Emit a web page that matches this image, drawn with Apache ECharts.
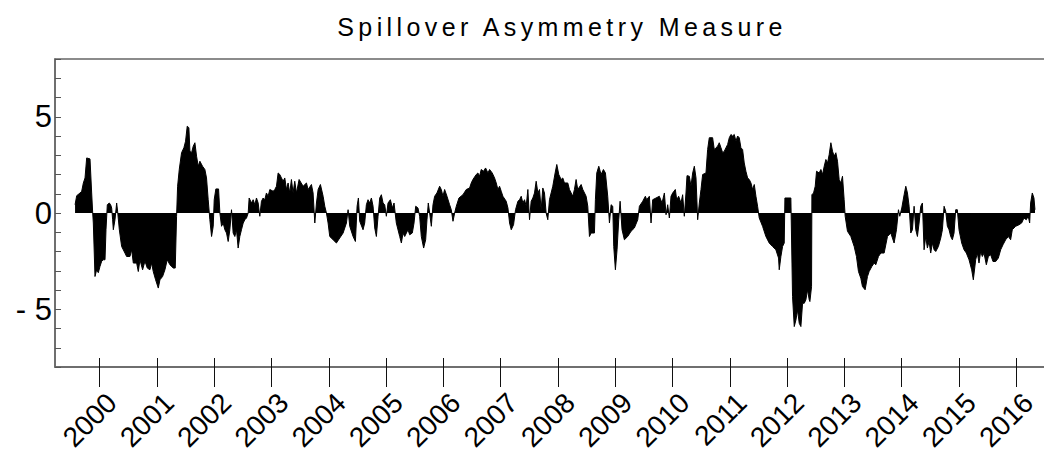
<!DOCTYPE html>
<html>
<head>
<meta charset="utf-8">
<title>Spillover Asymmetry Measure</title>
<script src="https://cdn.jsdelivr.net/npm/echarts@6.0.0/dist/echarts.min.js"></script>
<style>
  html, body { margin: 0; padding: 0; background: #fff; }
  #main { width: 1044px; height: 458px; }
</style>
</head>
<body>
<div id="main"></div>
<script>
const titleText = 'Spillover Asymmetry Measure';
const yearTicks = [2000, 2001, 2002, 2003, 2004, 2005, 2006, 2007, 2008,
  2009, 2010, 2011, 2012, 2013, 2014, 2015, 2016];
const yLabelValues = [-5, 0, 5];

// [decimal year, value]
const sam1999_2003 = [
  [1999.570, 0.43], [1999.599, 0.9], [1999.657, 1.04], [1999.686, 1.13], [1999.715, 1.56],
  [1999.744, 1.82], [1999.773, 2.86], [1999.831, 2.81], [1999.860, 1.04], [1999.878, 0],
  [1999.889, -0.52], [1999.918, -3.3], [1999.947, -2.95], [1999.976, -3.1], [2000.005, -2.78],
  [2000.035, -2.5], [2000.064, -2.43], [2000.093, -2.43], [2000.110, -0.87], [2000.133, 0.43],
  [2000.168, 0.52], [2000.191, 0.43], [2000.209, 0.26], [2000.226, -0.35], [2000.238, -0.87],
  [2000.267, -0.35], [2000.296, 0.52], [2000.313, 0.09], [2000.343, -0.87], [2000.383, -1.74],
  [2000.441, -2.08], [2000.470, -2.26], [2000.528, -2.26], [2000.558, -1.91], [2000.587, -2.6],
  [2000.645, -2.6], [2000.674, -3.04], [2000.703, -2.43], [2000.749, -2.95], [2000.790, -2.5],
  [2000.831, -2.86], [2000.877, -2.95], [2000.906, -2.6], [2000.935, -3.04], [2000.976, -3.47],
  [2001.023, -3.9], [2001.052, -3.47], [2001.098, -3.3], [2001.139, -2.95], [2001.179, -2.43],
  [2001.226, -2.69], [2001.284, -2.86], [2001.319, -2.86], [2001.342, -0.17], [2001.360, 1.39],
  [2001.389, 2.26], [2001.429, 3.13], [2001.470, 3.39], [2001.499, 3.73], [2001.528, 4.51],
  [2001.557, 4.43], [2001.575, 3.21], [2001.604, 3.13], [2001.633, 3.47], [2001.662, 3.65],
  [2001.691, 2.95], [2001.720, 2.43], [2001.749, 2.69], [2001.795, 2.43], [2001.836, 2.26],
  [2001.865, 1.82], [2001.894, 0.69], [2001.923, -0.35], [2001.953, -1.22], [2001.982, -0.69],
  [2001.999, 0.69], [2002.028, 1.25], [2002.075, 1.25], [2002.098, 0], [2002.127, -0.69],
  [2002.156, -0.52], [2002.185, -0.87], [2002.214, -1.04], [2002.243, -1.48], [2002.272, -0.87],
  [2002.301, 0.17], [2002.330, -1.04], [2002.359, -1.22], [2002.388, -0.87], [2002.417, -1.82],
  [2002.446, -1.22], [2002.475, -0.87], [2002.505, -0.52], [2002.534, -0.35], [2002.563, -0.26],
  [2002.592, 0], [2002.609, 0.78], [2002.650, 0.52], [2002.679, 0.69], [2002.708, 0.43],
  [2002.737, 0.78], [2002.766, 0.52], [2002.795, -0.17], [2002.824, 0.61], [2002.853, 0.78],
  [2002.882, 0.69], [2002.911, 1.04], [2002.940, 0.87], [2002.970, 1.22], [2003.028, 1.13],
  [2003.057, 1.22], [2003.086, 1.39], [2003.115, 2.08], [2003.144, 2.0], [2003.173, 1.82],
  [2003.202, 1.65], [2003.231, 1.82], [2003.260, 1.22], [2003.289, 1.56], [2003.318, 1.04],
  [2003.347, 1.74], [2003.376, 1.04], [2003.405, 1.65], [2003.435, 1.04], [2003.481, 1.74]
];

const sam2003_2007 = [
  [2003.551, 1.39], [2003.609, 1.56], [2003.638, 1.22], [2003.696, 1.48], [2003.725, 1.04],
  [2003.755, -0.52], [2003.784, 0.52], [2003.813, 1.22], [2003.853, 1.48], [2003.900, 0.87],
  [2003.929, 0.35], [2003.958, 0], [2003.987, -0.52], [2004.016, -1.22], [2004.074, -1.39],
  [2004.132, -1.56], [2004.190, -1.3], [2004.249, -1.04], [2004.307, -0.52], [2004.336, 0.17],
  [2004.365, -0.69], [2004.423, -1.22], [2004.464, -1.48], [2004.493, 0.35], [2004.516, 0.78],
  [2004.539, -0.43], [2004.597, -0.87], [2004.626, -0.52], [2004.655, 0.43], [2004.684, 0.69],
  [2004.713, 0.52], [2004.743, 0.78], [2004.772, 0.35], [2004.801, -0.78], [2004.830, -1.22],
  [2004.859, -0.17], [2004.888, 0.78], [2004.917, 0.95], [2004.946, 0.52], [2004.975, 0.43],
  [2005.004, -0.17], [2005.033, 0.52], [2005.074, 0.69], [2005.109, 0.26], [2005.138, 0.52],
  [2005.178, -0.52], [2005.237, -1.22], [2005.266, -1.56], [2005.295, -1.04], [2005.324, -1.22],
  [2005.382, -0.87], [2005.411, -1.13], [2005.457, -1.04], [2005.487, -0.52], [2005.516, 0.35],
  [2005.556, 0.26], [2005.585, -0.17], [2005.614, -1.22], [2005.655, -1.82], [2005.690, -1.39],
  [2005.713, -0.35], [2005.736, 0.52], [2005.760, 0], [2005.789, -0.69], [2005.818, 0.43],
  [2005.847, 0.87], [2005.887, 1.04], [2005.934, 1.39], [2005.963, 1.22], [2005.992, 0.87],
  [2006.021, 1.22], [2006.062, 0.87], [2006.108, 0.43], [2006.137, 0.17], [2006.167, -0.43],
  [2006.196, 0], [2006.225, 0.35], [2006.271, 0.78], [2006.341, 0.95], [2006.399, 1.22],
  [2006.457, 1.3], [2006.486, 1.56], [2006.515, 1.74], [2006.573, 2.0], [2006.602, 2.08],
  [2006.631, 1.91], [2006.660, 2.26], [2006.701, 2.17], [2006.736, 2.34], [2006.777, 2.08],
  [2006.806, 2.26], [2006.852, 2.08], [2006.893, 1.82], [2006.922, 1.56], [2006.951, 1.22],
  [2006.980, 1.39], [2007.009, 1.13], [2007.038, 0.87], [2007.096, 0.61], [2007.126, 0.26],
  [2007.155, -0.52], [2007.184, -0.87], [2007.224, -0.61], [2007.259, 0.17], [2007.300, 0.61],
  [2007.329, 0.69], [2007.358, 0.87], [2007.387, 0.52], [2007.416, 0.69], [2007.445, 0.35],
  [2007.474, 1.22], [2007.503, -0.35], [2007.532, 0.61], [2007.561, 0.78], [2007.590, 1.04],
  [2007.619, 1.65], [2007.649, 1.04]
];

const sam2007_2011 = [
  [2007.677, 1.22], [2007.706, 0.17], [2007.735, 1.3], [2007.764, 1.04], [2007.793, 0],
  [2007.822, -0.35], [2007.851, 0.69], [2007.909, 1.39], [2007.950, 2.08], [2007.979, 2.52],
  [2008.014, 2.0], [2008.055, 1.74], [2008.084, 1.82], [2008.113, 1.56], [2008.171, 1.56],
  [2008.200, 1.22], [2008.258, 0.87], [2008.287, 1.22], [2008.316, 1.74], [2008.345, 1.22],
  [2008.404, 1.48], [2008.433, 1.22], [2008.491, 0.87], [2008.520, 0.35], [2008.549, -1.22],
  [2008.578, -1.04], [2008.636, -1.04], [2008.653, 0.69], [2008.677, 2.08], [2008.712, 2.43],
  [2008.752, 2.0], [2008.793, 2.26], [2008.828, 2.08], [2008.868, 0.87], [2008.898, -0.52],
  [2008.927, 0.43], [2008.956, 0.35], [2008.973, -1.74], [2009.002, -2.95], [2009.031, -1.91],
  [2009.060, -0.35], [2009.084, 0.61], [2009.118, -0.87], [2009.159, -1.39], [2009.217, -1.22],
  [2009.275, -0.95], [2009.333, -0.78], [2009.392, -0.35], [2009.421, 0.35], [2009.479, 0.61],
  [2009.525, 0.87], [2009.548, 0.69], [2009.595, 0.87], [2009.624, -0.52], [2009.653, 0.69],
  [2009.711, 0.78], [2009.769, 0.87], [2009.816, 0.52], [2009.857, 1.04], [2009.886, -0.09],
  [2009.915, 0.43], [2009.944, -0.26], [2009.973, 0.87], [2010.002, 1.04], [2010.048, 1.22],
  [2010.072, 0.69], [2010.106, 0.87], [2010.147, 0.52], [2010.176, 0.95], [2010.205, -0.17],
  [2010.234, 1.04], [2010.252, 1.94], [2010.292, 1.91], [2010.321, 1.39], [2010.351, 2.08],
  [2010.380, 2.43], [2010.409, 1.82], [2010.438, -0.35], [2010.467, 0.52], [2010.496, 1.22],
  [2010.525, 2.0], [2010.583, 2.08], [2010.612, 3.3], [2010.641, 3.91], [2010.699, 3.91],
  [2010.728, 3.3], [2010.757, 3.39], [2010.786, 3.47], [2010.815, 3.65], [2010.845, 3.39],
  [2010.874, 3.13], [2010.903, 3.21], [2010.932, 3.39], [2010.961, 3.56], [2010.990, 3.91],
  [2011.019, 4.08], [2011.048, 4.0], [2011.077, 4.08], [2011.106, 3.73], [2011.135, 4.0],
  [2011.164, 3.91], [2011.193, 3.39], [2011.222, 3.3], [2011.251, 2.6], [2011.280, 2.17],
  [2011.310, 1.82], [2011.339, 1.74], [2011.368, 1.56], [2011.397, 1.22], [2011.426, 1.48],
  [2011.455, 0.87], [2011.484, 0.35], [2011.513, -0.26], [2011.571, -0.69], [2011.629, -1.22],
  [2011.687, -1.56], [2011.745, -1.74], [2011.803, -1.91], [2011.850, -2.34]
];

const sam2011_2016 = [
  [2011.862, -2.95], [2011.891, -2.26], [2011.920, -1.74], [2011.949, -1.56], [2011.961, 0.78],
  [2012.065, 0.78], [2012.094, -4.34], [2012.124, -5.9], [2012.153, -5.56], [2012.182, -5.04],
  [2012.211, -5.73], [2012.240, -5.9], [2012.269, -4.69], [2012.298, -4.69], [2012.327, -4.51],
  [2012.356, -3.99], [2012.385, -4.51], [2012.397, -4.6], [2012.426, -3.82], [2012.432, 0.95],
  [2012.461, 1.04], [2012.490, 1.39], [2012.513, 2.17], [2012.559, 2.08], [2012.589, 2.26],
  [2012.618, 2.0], [2012.647, 2.43], [2012.676, 2.78], [2012.705, 2.6], [2012.734, 3.04],
  [2012.763, 3.65], [2012.792, 3.21], [2012.821, 2.95], [2012.850, 3.13], [2012.879, 2.69],
  [2012.908, 1.74], [2012.937, 1.56], [2012.966, 1.91], [2012.995, 0.69], [2013.013, -0.17],
  [2013.053, -0.95], [2013.112, -1.22], [2013.170, -1.74], [2013.210, -2.26], [2013.245, -3.04],
  [2013.286, -3.39], [2013.315, -3.82], [2013.361, -3.99], [2013.402, -3.3], [2013.431, -3.04],
  [2013.478, -2.78], [2013.518, -2.6], [2013.547, -2.69], [2013.594, -2.26], [2013.635, -2.08],
  [2013.693, -2.08], [2013.751, -1.22], [2013.809, -1.04], [2013.867, -1.56], [2013.908, -0.87],
  [2013.943, 0.17], [2013.966, -0.17], [2014.001, 0.26], [2014.042, 0.95], [2014.071, 1.39],
  [2014.100, 1.04], [2014.129, 0.35], [2014.158, -1.04], [2014.187, -0.87], [2014.216, 0.35],
  [2014.245, -0.87], [2014.274, -1.22], [2014.303, -0.52], [2014.332, 0.35], [2014.361, 0.52],
  [2014.390, -1.91], [2014.419, -1.22], [2014.448, -1.82], [2014.477, -1.48], [2014.506, -2.08],
  [2014.536, -1.56], [2014.565, -1.91], [2014.594, -2.0], [2014.640, -1.74], [2014.681, -1.3],
  [2014.710, -0.87], [2014.739, 0.35], [2014.768, 0.09], [2014.797, -0.69], [2014.826, -0.87],
  [2014.855, -1.22], [2014.884, -1.39], [2014.913, -1.04], [2014.942, 0.17], [2014.971, 0.17],
  [2015.000, -0.87], [2015.047, -1.56], [2015.088, -1.91], [2015.128, -2.08], [2015.175, -2.43],
  [2015.221, -2.95], [2015.250, -3.47], [2015.291, -2.43], [2015.320, -2.08], [2015.349, -2.6],
  [2015.378, -2.0], [2015.407, -2.26], [2015.436, -2.08], [2015.477, -2.69], [2015.512, -2.26],
  [2015.553, -2.17], [2015.593, -2.52], [2015.640, -2.52], [2015.686, -2.34], [2015.727, -1.91],
  [2015.768, -1.65], [2015.814, -1.39], [2015.861, -1.22], [2015.901, -1.39], [2015.930, -0.87],
  [2015.989, -0.69], [2016.047, -0.61], [2016.093, -0.52], [2016.134, -0.26], [2016.174, -0.35],
  [2016.209, -0.17], [2016.233, -0.52], [2016.250, 0.52], [2016.279, 1.04], [2016.308, 0.78],
  [2016.326, 0.17]
];

const samData = [].concat(sam1999_2003, sam2003_2007, sam2007_2011, sam2011_2016);

const fontFamily = '"Liberation Sans", Arial, sans-serif';
const xMin = 1999.22;
const xMax = 2016.658;

const chart = echarts.init(document.getElementById('main'), null, { renderer: 'svg' });

chart.setOption({
  animation: false,
  backgroundColor: '#fff',
  title: {
    text: titleText,
    left: 557,
    top: 9,
    textAlign: 'center',
    textStyle: { fontFamily: fontFamily, fontSize: 25, fontWeight: 'normal', color: '#000' }
  },
  grid: {
    left: 55, right: -10, top: 59, bottom: 91,
    show: true, borderColor: '#666', borderWidth: 1.5,
    containLabel: false,
    outerBoundsMode: 'none'
  },
  xAxis: [
    {
      type: 'value', min: xMin, max: xMax, position: 'bottom',
      axisLine: { show: true, onZero: false, lineStyle: { color: '#666', width: 1.5 } },
      axisTick: { show: true, inside: false, length: 20, customValues: yearTicks,
        lineStyle: { color: '#111', width: 1 } },
      axisLabel: {
        customValues: yearTicks, rotate: 45, align: 'right', verticalAlign: 'top',
        lineHeight: 34, margin: 19, fontSize: 28, fontFamily: fontFamily, color: '#000',
        formatter: function (v) { return String(Math.round(v)); }
      },
      splitLine: { show: false }
    },
    {
      // short inner part of the year ticks
      type: 'value', min: xMin, max: xMax, position: 'bottom',
      axisLine: { show: false, onZero: false },
      axisTick: { show: true, inside: true, length: 9, customValues: yearTicks,
        lineStyle: { color: '#111', width: 1 } },
      axisLabel: { show: false },
      splitLine: { show: false }
    }
  ],
  yAxis: {
    type: 'value', min: -8, max: 8, interval: 1,
    axisLine: { show: true, onZero: false, lineStyle: { color: '#666', width: 1.5 } },
    axisTick: { show: true, inside: true, length: 6, lineStyle: { color: '#555', width: 1 } },
    axisLabel: {
      customValues: yLabelValues, margin: 3, fontSize: 31, fontFamily: fontFamily, color: '#000',
      formatter: function (v) { return v < 0 ? '- ' + Math.abs(v) : String(v); }
    },
    splitLine: { show: false }
  },
  series: [
    {
      type: 'line',
      xAxisIndex: 0,
      data: samData,
      symbol: 'none',
      silent: true,
      lineStyle: { color: '#000', width: 1 },
      areaStyle: { color: '#000', opacity: 1 }
    }
  ]
});

// the title in the original is spaced out a bit
chart.getDom().querySelectorAll('text').forEach(function (t) {
  if (t.textContent === titleText) t.style.letterSpacing = '4.4px';
});
</script>
</body>
</html>
